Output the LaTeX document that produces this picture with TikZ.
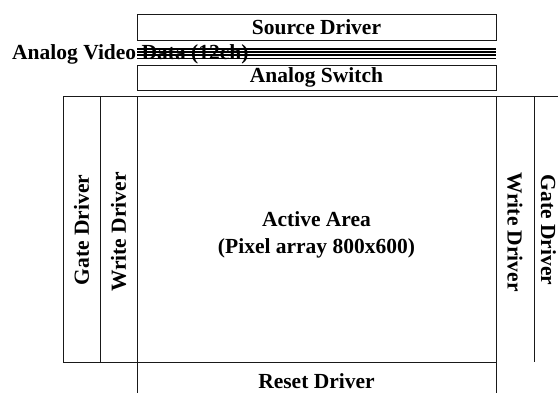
\documentclass[tikz,border=0pt]{standalone}
\usepackage{fontspec}
\setmainfont{Liberation Serif}
\usepackage{tikz}
\tikzset{
    blocklabel/.style={font=\bfseries\fontsize{21.5}{27}\selectfont, inner sep=0pt, align=center},
    blockline/.style={line width=1pt, color=black!90},
    busline/.style={line width=1.4pt}
}

\begin{document}
\begin{tikzpicture}[x=1pt,y=-1pt]
    \useasboundingbox (0,0) rectangle (558,392);
    \clip (0,0) rectangle (558,392);
    % top blocks
    \node[blocklabel, anchor=west] (video) at (12,54) {Analog Video Data (12ch)};
    \draw[blockline] (137,14) rectangle (496,40);
    \node[blocklabel] (source) at (316.5,27) {Source Driver};
    \foreach \y in {49,52,55}
        \draw[busline] (137,\y) -- (496,\y);
    \draw[line width=0.8pt] (137,58.5) -- (496,58.5);
    \draw[blockline] (137,65) rectangle (496,90);
    \node[blocklabel] (switch) at (316.5,77.5) {Analog Switch};
    % panel
    \coordinate (TL) at (63,96);
    \coordinate (TR) at (560,96);
    \draw[blockline] (TL) -- (TR);
    \draw[blockline] (63,96) -- (63,362) -- (496,362);
    \draw[blockline] (100,96) -- (100,362);
    \draw[blockline] (137,96) -- (137,400);
    \draw[blockline] (496,96) -- (496,400);
    \draw[blockline] (534,96) -- (534,362);
    \node[blocklabel, rotate=90] (gateL) at (81.5,230) {Gate Driver};
    \node[blocklabel, rotate=90] (writeL) at (118.5,232) {Write Driver};
    \node[blocklabel] (active) at (316.5,235) {Active Area\\(Pixel array 800x600)};
    \node[blocklabel, rotate=-90] (writeR) at (515,232) {Write Driver};
    \node[blocklabel, rotate=-90] (gateR) at (548.5,230) {Gate Driver};
    % bottom
    \node[blocklabel] (reset) at (316.5,381) {Reset Driver};
\end{tikzpicture}
\end{document}
